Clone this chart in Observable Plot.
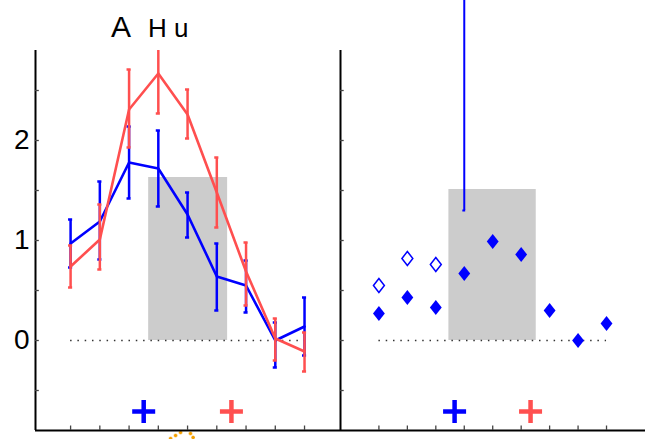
<!DOCTYPE html>
<html>
<head>
<meta charset="utf-8">
<script src="https://cdn.jsdelivr.net/npm/d3@7"></script>
<script src="https://cdn.jsdelivr.net/npm/@observablehq/plot@0.6"></script>
<style>
  html, body { margin: 0; padding: 0; background: white; }
  #wrap { position: relative; width: 648px; height: 439px; overflow: hidden; font-family: "Liberation Sans", Arial, sans-serif; }
  #wrap > * { position: absolute; top: 0; }
</style>
</head>
<body>
<div id="wrap"></div>
<script>
// ---- data ----
const positions = [1, 2, 3, 4, 5, 6, 7, 8, 9];

const blueMean = [0.97, 1.19, 1.78, 1.72, 1.26, 0.64, 0.55, 0.00, 0.14];
const blueLo   = [0.73, 0.81, 1.42, 1.34, 1.03, 0.30, 0.28, -0.27, -0.15];
const blueHi   = [1.21, 1.59, 2.14, 2.10, 1.48, 0.97, 0.80, 0.18, 0.43];

const redMean = [0.74, 1.01, 2.31, 2.67, 2.26, 1.48, 0.69, 0.02, -0.11];
const redLo   = [0.53, 0.71, 1.93, 2.27, 2.02, 1.13, 0.35, -0.20, -0.31];
const redHi   = [0.95, 1.36, 2.71, 3.07, 2.51, 1.83, 0.98, 0.22, 0.08];

const leftShade  = {x1: 3.67, x2: 6.37, y1: 0, y2: 1.63};
const rightShade = {x1: 3.46, x2: 6.53, y1: 0, y2: 1.51};

const leftPlusX  = [3.5, 6.5];
const rightPlusX = [3.66, 6.33];
const plusY = -0.71;
const plusColors = ["#0000ff", "#ff5050"];

const filledDiamond = [0.27, 0.43, 0.33, 0.67, 0.99, 0.86, 0.30, 0.00, 0.17];
const openDiamondX = [1, 2, 3];
const openDiamond  = [0.55, 0.82, 0.76];

const spikeX = 4, spikeLo = 1.30, spikeHi = 3.6;

const orangeX = [4.42, 4.59, 4.76, 5.10, 5.19];
const orangeY = [-0.98, -0.95, -0.92, -0.93, -0.97];

const yTicksMinor = [-0.5, 0, 0.5, 1, 1.5, 2, 2.5];
const yTickLabels = [0, 1, 2];
const yDomain = [-0.9, 2.9];
const leftXDomain = [-0.2, 10.23];
const rightXDomain = [-0.35, 10.37];
const titleMain = "A";
const titleSub = "H u";

// ---- helpers ----
const BLUE = "#0000ff", RED = "#ff4f4f";
const rows = (mean, lo, hi) => positions.map((x, i) => ({x, m: mean[i], lo: lo[i], hi: hi[i]}));
const blueRows = rows(blueMean, blueLo, blueHi);
const redRows = rows(redMean, redLo, redHi);

const diamondSym = {
  draw(ctx, size) {
    const r = Math.sqrt(size / Math.PI);
    const w = r * 0.78;
    ctx.moveTo(0, -r); ctx.lineTo(w, 0); ctx.lineTo(0, r); ctx.lineTo(-w, 0); ctx.closePath();
  }
};
const plusSym = {
  draw(ctx, size) {
    const r = Math.sqrt(size / Math.PI);
    ctx.moveTo(-r, 0); ctx.lineTo(r, 0); ctx.moveTo(0, -r); ctx.lineTo(0, r);
  }
};

function frameMarks(xDomain, withLabels) {
  const marks = [
    Plot.ruleX([xDomain[0]], {y1: yDomain[0], y2: yDomain[1], stroke: "black", strokeWidth: 2}),
    Plot.ruleY([yDomain[0]], {x1: xDomain[0], x2: xDomain[1], stroke: "black", strokeWidth: 2}),
    Plot.ruleY(yTicksMinor, {x1: xDomain[0], x2: d => xDomain[0] + 0.13, stroke: "#444", strokeWidth: 1.3}),
    Plot.ruleX(positions, {y1: yDomain[0], y2: yDomain[0] + 0.045, stroke: "#444", strokeWidth: 1.3})
  ];
  if (withLabels) {
    marks.push(Plot.axisY({ticks: yTickLabels, tickSize: 0, tickPadding: 6, fontSize: 28, fontFamily: "Liberation Sans, Arial, sans-serif", tickFormat: d => String(d)}));
  }
  return marks;
}

function errorSeries(data, color) {
  return [
    Plot.ruleX(data, {x: "x", y1: "lo", y2: "hi", stroke: color, strokeWidth: 2.5, clip: true}),
    Plot.ruleY(data, {y: "lo", x1: d => d.x - 0.07, x2: d => d.x + 0.07, stroke: color, strokeWidth: 2.5, clip: true}),
    Plot.ruleY(data.filter(d => d.hi <= yDomain[1]), {y: "hi", x1: d => d.x - 0.07, x2: d => d.x + 0.07, stroke: color, strokeWidth: 2.5, clip: true}),
    Plot.line(data, {x: "x", y: "m", stroke: color, strokeWidth: 2.6, clip: true})
  ];
}

const common = {
  height: 439,
  marginTop: 50,
  marginBottom: 9,
  style: {background: "transparent", fontFamily: "Liberation Sans, Arial, sans-serif"},
  y: {domain: yDomain, axis: null}
};

// ---- left panel ----
const left = Plot.plot({
  ...common,
  width: 340,
  marginLeft: 35,
  marginRight: 0,
  x: {domain: leftXDomain, axis: null},
  marks: [
    Plot.rect([leftShade], {x1: "x1", x2: "x2", y1: "y1", y2: "y2", fill: "#cccccc"}),
    Plot.ruleY([0], {x1: positions[0], x2: positions[positions.length - 1], stroke: "#333", strokeWidth: 1.5, strokeDasharray: "1.5,5.8"}),
    ...errorSeries(blueRows, BLUE),
    ...errorSeries(redRows, RED),
    Plot.dot(leftPlusX, {x: d => d, y: () => plusY, symbol: plusSym, r: 11.5, stroke: (d, i) => plusColors[i], strokeWidth: 4.5, fill: "none"}),
    Plot.dot(orangeX, {x: d => d, y: (d, i) => orangeY[i], symbol: plusSym, r: 1.8, stroke: "#f5a000", strokeWidth: 2, fill: "none"}),
    ...frameMarks(leftXDomain, true)
  ]
});
left.style.left = "0px";

// ---- right panel ----
const right = Plot.plot({
  ...common,
  width: 318,
  marginLeft: 10,
  marginRight: 3,
  x: {domain: rightXDomain, axis: null},
  marks: [
    Plot.rect([rightShade], {x1: "x1", x2: "x2", y1: "y1", y2: "y2", fill: "#cccccc"}),
    Plot.ruleY([0], {x1: positions[0], x2: positions[positions.length - 1], stroke: "#333", strokeWidth: 1.5, strokeDasharray: "1.5,5.8"}),
    Plot.ruleX([spikeX], {y1: spikeLo, y2: spikeHi, stroke: BLUE, strokeWidth: 2}),
    Plot.ruleY([spikeLo], {x1: spikeX - 0.05, x2: spikeX + 0.05, stroke: BLUE, strokeWidth: 2}),
    Plot.dot(openDiamondX, {x: d => d, y: (d, i) => openDiamond[i], symbol: diamondSym, r: 7, stroke: BLUE, strokeWidth: 1.5, fill: "white"}),
    Plot.dot(positions, {x: d => d, y: (d, i) => filledDiamond[i], symbol: diamondSym, r: 7.6, fill: BLUE, stroke: "none"}),
    Plot.dot(rightPlusX, {x: d => d, y: () => plusY, symbol: plusSym, r: 11.5, stroke: (d, i) => plusColors[i], strokeWidth: 4.5, fill: "none"}),
    ...frameMarks(rightXDomain, false)
  ]
});
right.style.left = "330px";

// ---- title ----
const ns = "http://www.w3.org/2000/svg";
const title = document.createElementNS(ns, "svg");
title.setAttribute("width", 648);
title.setAttribute("height", 50);
title.style.left = "0px";
const tA = document.createElementNS(ns, "text");
tA.setAttribute("x", 111); tA.setAttribute("y", 37);
tA.setAttribute("font-size", 30);
tA.setAttribute("font-family", "Liberation Sans, Arial, sans-serif");
tA.textContent = titleMain;
const tB = document.createElementNS(ns, "text");
tB.setAttribute("x", 148); tB.setAttribute("y", 37);
tB.setAttribute("font-size", 26);
tB.setAttribute("font-family", "Liberation Sans, Arial, sans-serif");
tB.setAttribute("xml:space", "preserve");
tB.style.whiteSpace = "pre";
tB.textContent = titleSub;
title.append(tA, tB);

const wrap = document.getElementById("wrap");
wrap.append(left, right, title);
</script>
</body>
</html>
